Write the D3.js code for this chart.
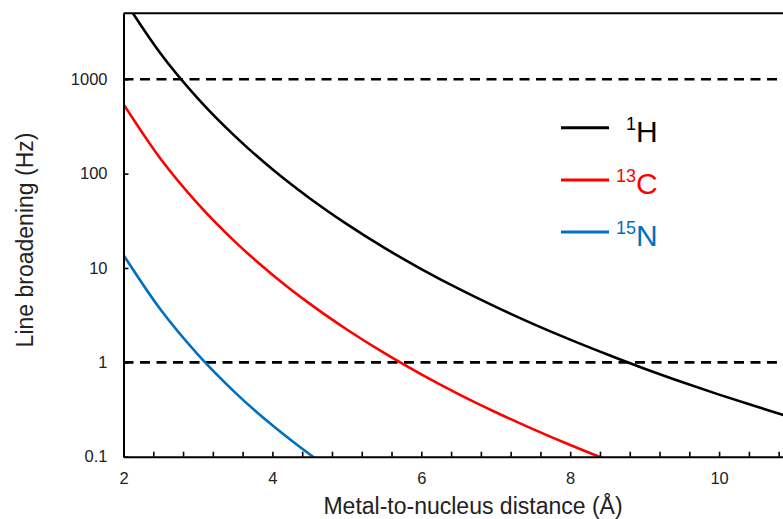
<!DOCTYPE html>
<html>
<head>
<meta charset="utf-8">
<script src="https://cdn.jsdelivr.net/npm/d3@7"></script>
<style>
  html, body { margin: 0; padding: 0; background: #fff; }
  svg { display: block; font-family: "Liberation Sans", Arial, sans-serif; }
</style>
</head>
<body>
<svg id="chart" width="783" height="519"></svg>
<script>
// ---- Data ----
const distances = [2, 2.5, 3, 3.5, 4, 4.5, 5, 5.5, 6, 6.5, 7, 7.5, 8, 8.5, 9, 9.5, 10, 10.5, 11, 11.5, 12];
const h1Values  = [7110, 1864, 624, 248, 111, 54.8, 29.1, 16.4, 9.75, 6.03, 3.87, 2.56, 1.74, 1.21, 0.856, 0.619, 0.455, 0.340, 0.257, 0.197, 0.152];
const c13Values = [544, 142.6, 47.7, 18.9, 8.50, 4.19, 2.23, 1.257, 0.746, 0.461, 0.296, 0.196, 0.133, 0.0923];
const n15Values = [13.7, 3.60, 1.206, 0.478, 0.215, 0.106, 0.0563];
const seriesNames = ["1H", "13C", "15N"];
const seriesSup   = ["1", "13", "15"];
const seriesMain  = ["H", "C", "N"];
const seriesColors = ["#000000", "#ff0000", "#0070c0"];
const yTickValues = [0.1, 1, 10, 100, 1000];
const yTickLabels = ["0.1", "1", "10", "100", "1000"];
const xLabelTicks = [2, 4, 6, 8, 10];
const thresholdValues = [1000, 1];
const xTitle = "Metal-to-nucleus distance (Å)";
const yTitle = "Line broadening (Hz)";

// ---- Layout ----
const plotLeft = 123.5, plotTop = 13.3, plotBottom = 456.7, pxPerUnit = 74.45;
const xDomain = [2, 12];
const plotRight = plotLeft + (xDomain[1] - xDomain[0]) * pxPerUnit;

const svg = d3.select("#chart");
const x = d3.scaleLinear().domain(xDomain).range([plotLeft, plotRight]);
const y = d3.scaleLog().domain([0.1, 5000]).range([plotBottom, plotTop]);

svg.append("defs").append("clipPath").attr("id", "plotClip")
  .append("rect").attr("x", plotLeft).attr("y", plotTop)
  .attr("width", plotRight - plotLeft).attr("height", plotBottom - plotTop);

// Dashed threshold lines
svg.append("g").selectAll("line").data(thresholdValues).join("line")
  .attr("x1", plotLeft).attr("x2", plotRight)
  .attr("y1", d => y(d)).attr("y2", d => y(d))
  .attr("stroke", "#000").attr("stroke-width", 2.6)
  .attr("stroke-dasharray", "10,6.5");

// Curves
const series = [h1Values, c13Values, n15Values].map((vals, i) => ({
  name: seriesNames[i], color: seriesColors[i],
  points: vals.map((v, j) => [distances[j], v])
}));
const line = d3.line().x(d => x(d[0])).y(d => y(d[1])).curve(d3.curveMonotoneX);
svg.append("g").attr("clip-path", "url(#plotClip)")
  .selectAll("path").data(series).join("path")
  .attr("d", d => line(d.points))
  .attr("fill", "none").attr("stroke", d => d.color).attr("stroke-width", 2.6);

// Top border
svg.append("line").attr("x1", plotLeft).attr("x2", plotRight)
  .attr("y1", plotTop).attr("y2", plotTop).attr("stroke", "#000").attr("stroke-width", 2);

// X axis (minor ticks every 0.4 plus labels)
const minorTicks = d3.range(0, 26).map(i => +(2 + i * 0.4).toFixed(1));
const xAxis = d3.axisBottom(x).tickValues(minorTicks).tickSizeInner(-5).tickSizeOuter(0)
  .tickPadding(16)
  .tickFormat(d => xLabelTicks.includes(d) ? String(d) : "");
const gx = svg.append("g").attr("transform", `translate(0,${plotBottom})`).call(xAxis);
gx.select(".domain").attr("stroke-width", 2);
gx.selectAll(".tick line").attr("stroke-width", 1.6);
gx.selectAll("text").attr("font-size", 16.5).attr("fill", "#222")
  .attr("font-family", "Liberation Sans, Arial, sans-serif");

// Y axis
const yAxis = d3.axisLeft(y).tickValues(yTickValues).tickSizeInner(-5).tickSizeOuter(0)
  .tickPadding(16)
  .tickFormat((d, i) => yTickLabels[i]);
const gy = svg.append("g").attr("transform", `translate(${plotLeft},0)`).call(yAxis);
gy.select(".domain").attr("stroke-width", 2);
gy.selectAll(".tick line").attr("stroke-width", 1.6);
gy.selectAll("text").attr("font-size", 16.5).attr("fill", "#222")
  .attr("font-family", "Liberation Sans, Arial, sans-serif");

// Axis titles
svg.append("text").attr("x", 473).attr("y", 514)
  .attr("text-anchor", "middle").attr("font-size", 23).attr("fill", "#222")
  .text(xTitle);
svg.append("text").attr("transform", "translate(33,240) rotate(-90)")
  .attr("text-anchor", "middle").attr("font-size", 23).attr("fill", "#222")
  .text(yTitle);

// Legend
const legY = [127.7, 180, 232];
const leg = svg.append("g").selectAll("g").data(series).join("g");
leg.append("line")
  .attr("x1", 561).attr("x2", 609)
  .attr("y1", (d, i) => legY[i]).attr("y2", (d, i) => legY[i])
  .attr("stroke", d => d.color).attr("stroke-width", 3);
leg.append("text").attr("fill", d => d.color)
  .attr("x", 636).attr("y", (d, i) => legY[i] + 2)
  .attr("text-anchor", "end").attr("font-size", 18)
  .text((d, i) => seriesSup[i]);
leg.append("text").attr("fill", d => d.color)
  .attr("x", 636).attr("y", (d, i) => legY[i] + 14)
  .attr("font-size", 30)
  .text((d, i) => seriesMain[i]);
</script>
</body>
</html>
